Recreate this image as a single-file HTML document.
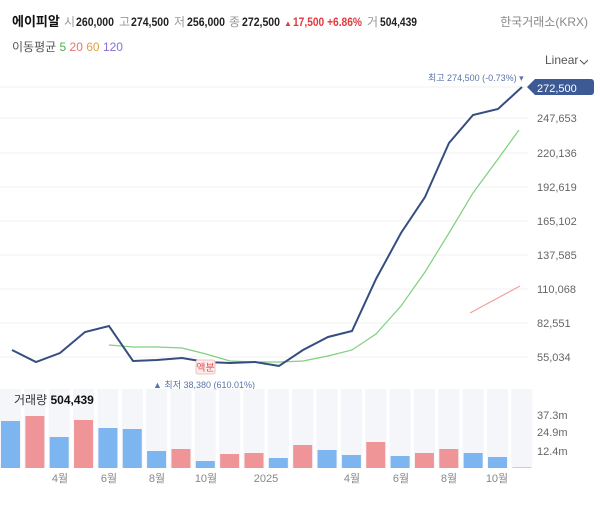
<!DOCTYPE html><html><head><meta charset="utf-8"><style>
body{margin:0;width:600px;height:504px;background:#fff;font-family:"Liberation Sans","Noto Sans CJK KR",sans-serif;overflow:hidden}
</style></head><body>
<svg width="600" height="504" xmlns="http://www.w3.org/2000/svg" font-family="Liberation Sans, Noto Sans CJK KR, sans-serif">
<text x="12" y="26" font-size="13" font-weight="bold" fill="#111">에이피알</text>
<text x="64" y="26" font-size="12" fill="#999">시</text><text x="76" y="26" font-size="12" font-weight="bold" fill="#222" textLength="38" lengthAdjust="spacingAndGlyphs">260,000</text>
<text x="119" y="26" font-size="12" fill="#999">고</text><text x="131" y="26" font-size="12" font-weight="bold" fill="#222" textLength="38" lengthAdjust="spacingAndGlyphs">274,500</text>
<text x="174" y="26" font-size="12" fill="#999">저</text><text x="187" y="26" font-size="12" font-weight="bold" fill="#222" textLength="38" lengthAdjust="spacingAndGlyphs">256,000</text>
<text x="229" y="26" font-size="12" fill="#999">종</text><text x="242" y="26" font-size="12" font-weight="bold" fill="#222" textLength="38" lengthAdjust="spacingAndGlyphs">272,500</text>
<text x="284" y="26" font-size="8" fill="#e0393e">▲</text><text x="293" y="26" font-size="12" font-weight="bold" fill="#e0393e" textLength="69" lengthAdjust="spacingAndGlyphs">17,500 +6.86%</text>
<text x="367" y="26" font-size="12" fill="#999">거</text><text x="380" y="26" font-size="12" font-weight="bold" fill="#222" textLength="37" lengthAdjust="spacingAndGlyphs">504,439</text>
<text x="588" y="26" font-size="12" fill="#888" text-anchor="end">한국거래소(KRX)</text>
<text x="12" y="51" font-size="12" fill="#555">이동평균 <tspan fill="#4caf50">5</tspan> <tspan fill="#e57373">20</tspan> <tspan fill="#e0a040">60</tspan> <tspan fill="#8a6fcf">120</tspan></text>
<text x="545" y="64" font-size="12" fill="#555">Linear</text><path d="M580 60l4 4 4-4" stroke="#555" fill="none"/>
<g stroke="#f2f2f2"><line x1="0" y1="87" x2="528" y2="87"/><line x1="0" y1="118" x2="528" y2="118"/><line x1="0" y1="153" x2="528" y2="153"/><line x1="0" y1="187" x2="528" y2="187"/><line x1="0" y1="221" x2="528" y2="221"/><line x1="0" y1="255" x2="528" y2="255"/><line x1="0" y1="289" x2="528" y2="289"/><line x1="0" y1="323" x2="528" y2="323"/><line x1="0" y1="357" x2="528" y2="357"/></g>
<g font-size="11" fill="#666"><text x="537" y="122">247,653</text><text x="537" y="157">220,136</text><text x="537" y="191">192,619</text><text x="537" y="225">165,102</text><text x="537" y="259">137,585</text><text x="537" y="293">110,068</text><text x="537" y="327">82,551</text><text x="537" y="361">55,034</text></g>
<path d="M527 87l8-8h56a3 3 0 0 1 3 3v10a3 3 0 0 1-3 3h-56z" fill="#3d5a94"/><text x="537" y="92" font-size="11" fill="#fff">272,500</text>
<text x="428" y="81" font-size="9" fill="#5a75a8">최고 274,500 (-0.73%) ▾</text>
<polyline fill="none" stroke="#7fd07f" stroke-width="1.2" points="109,345 133,347 157,347 182,348 206,354 230,361 255,362 279,362 303,361 328,356 352,350 376,334 401,306 425,272 449,233 473,193 498,159 519,130"/>
<line x1="470" y1="313" x2="520" y2="286" stroke="#f0a0a0" stroke-width="1.2"/>
<polyline fill="none" stroke="#354e80" stroke-width="2" points="12,350 36,362 60,353 85,332 109,326 133,361 157,360 182,358 206,362 230,363 255,362 279,366 303,350 328,337 352,331 376,279 401,233 425,197 449,143 473,115 498,109 522,87"/>
<rect x="196" y="360" width="19" height="14" rx="2" fill="#fdecec" stroke="#f2c0c0"/><text x="205.5" y="371" font-size="10" fill="#e05050" text-anchor="middle">액분</text>
<text x="153" y="388" font-size="9" fill="#5a75a8">▲ 최저 38,380 (610.01%)</text>
<g fill="#f4f6fa">
<rect x="0" y="389" width="21" height="79"/><rect x="24.35" y="389" width="21" height="79"/><rect x="48.7" y="389" width="21" height="79"/><rect x="73.05" y="389" width="21" height="79"/><rect x="97.4" y="389" width="21" height="79"/><rect x="121.75" y="389" width="21" height="79"/><rect x="146.1" y="389" width="21" height="79"/><rect x="170.45" y="389" width="21" height="79"/><rect x="194.8" y="389" width="21" height="79"/><rect x="219.15" y="389" width="21" height="79"/><rect x="243.5" y="389" width="21" height="79"/><rect x="267.85" y="389" width="21" height="79"/><rect x="292.2" y="389" width="21" height="79"/><rect x="316.55" y="389" width="21" height="79"/><rect x="340.9" y="389" width="21" height="79"/><rect x="365.25" y="389" width="21" height="79"/><rect x="389.6" y="389" width="21" height="79"/><rect x="413.95" y="389" width="21" height="79"/><rect x="438.3" y="389" width="21" height="79"/><rect x="462.65" y="389" width="21" height="79"/><rect x="487" y="389" width="21" height="79"/><rect x="511.35" y="389" width="21" height="79"/>
</g>
<g>
<rect x="1" y="421" width="19" height="47" fill="#7cb5f0"/>
<rect x="25.35" y="416" width="19" height="52" fill="#ef9598"/>
<rect x="49.7" y="437" width="19" height="31" fill="#7cb5f0"/>
<rect x="74.05" y="420" width="19" height="48" fill="#ef9598"/>
<rect x="98.4" y="428" width="19" height="40" fill="#7cb5f0"/>
<rect x="122.75" y="429" width="19" height="39" fill="#7cb5f0"/>
<rect x="147.1" y="451" width="19" height="17" fill="#7cb5f0"/>
<rect x="171.45" y="449" width="19" height="19" fill="#ef9598"/>
<rect x="195.8" y="461" width="19" height="7" fill="#7cb5f0"/>
<rect x="220.15" y="454" width="19" height="14" fill="#ef9598"/>
<rect x="244.5" y="453" width="19" height="15" fill="#ef9598"/>
<rect x="268.85" y="458" width="19" height="10" fill="#7cb5f0"/>
<rect x="293.2" y="445" width="19" height="23" fill="#ef9598"/>
<rect x="317.55" y="450" width="19" height="18" fill="#7cb5f0"/>
<rect x="341.9" y="455" width="19" height="13" fill="#7cb5f0"/>
<rect x="366.25" y="442" width="19" height="26" fill="#ef9598"/>
<rect x="390.6" y="456" width="19" height="12" fill="#7cb5f0"/>
<rect x="414.95" y="453" width="19" height="15" fill="#ef9598"/>
<rect x="439.3" y="449" width="19" height="19" fill="#ef9598"/>
<rect x="463.65" y="453" width="19" height="15" fill="#7cb5f0"/>
<rect x="488" y="457" width="19" height="11" fill="#7cb5f0"/>
<rect x="512.35" y="467" width="19" height="1" fill="#c8d0e0"/>
</g>
<text x="14" y="404" font-size="12" fill="#333">거래량 <tspan font-weight="bold" fill="#111">504,439</tspan></text>
<g font-size="11" fill="#666"><text x="537" y="419">37.3m</text><text x="537" y="436">24.9m</text><text x="537" y="455">12.4m</text></g>
<g font-size="11" fill="#888" text-anchor="middle"><text x="60" y="482">4월</text><text x="109" y="482">6월</text><text x="157" y="482">8월</text><text x="206" y="482">10월</text><text x="266" y="482">2025</text><text x="352" y="482">4월</text><text x="401" y="482">6월</text><text x="449" y="482">8월</text><text x="497" y="482">10월</text></g>
</svg></body></html>
